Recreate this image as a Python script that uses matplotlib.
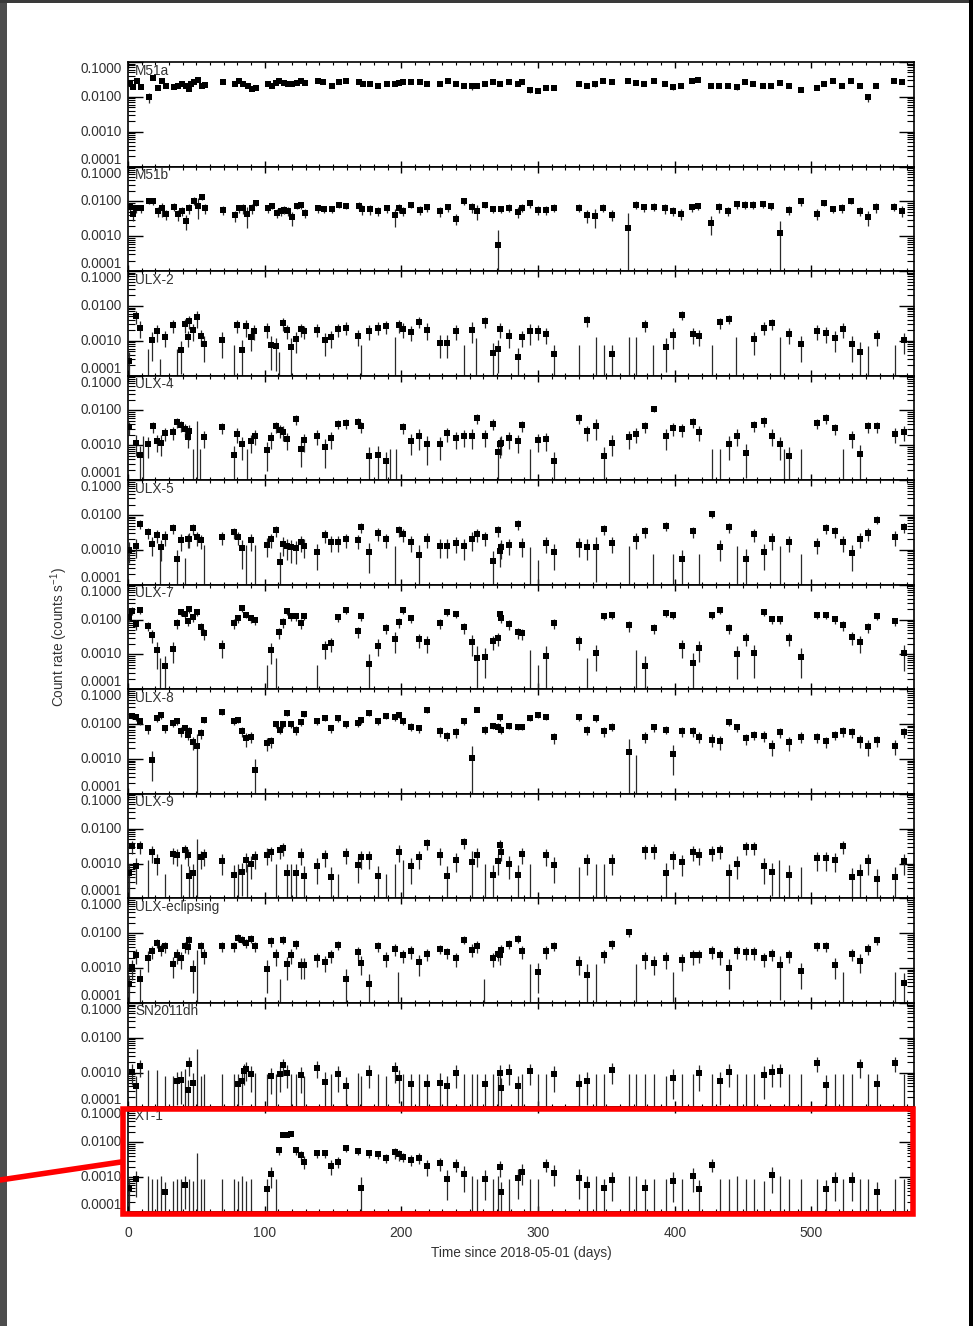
"""Swift/XRT light curves of the M51 X-ray sources, eleven stacked panels.

Squares are detections with 1-sigma bars, bare vertical lines are upper
limits drawn up from the bottom of each panel. Saves ``out.png``.
"""

import matplotlib.pyplot as plt
from matplotlib.lines import Line2D
from matplotlib.patches import Rectangle
from matplotlib.ticker import LogLocator, MultipleLocator, NullFormatter

# (day, rate, fractional error) for detections, (day, limit) for upper limits
M51A_DET = [
    (1.5, 0.025, 0.12), (3.9, 0.019, 0.12), (6.3, 0.029, 0.1), (9.5, 0.019, 0.12),
    (15.4, 0.0097, 0.3), (18.3, 0.035, 0.1), (22, 0.018, 0.12), (24.9, 0.029, 0.1),
    (27.6, 0.020, 0.1), (33.4, 0.019, 0.1), (36.3, 0.021, 0.1), (39.5, 0.024, 0.1),
    (42.2, 0.021, 0.1), (44.7, 0.017, 0.12), (45.9, 0.024, 0.1), (48.5, 0.027, 0.1),
    (51.5, 0.030, 0.1), (53.9, 0.020, 0.1), (56.4, 0.022, 0.1), (69.5, 0.027, 0.08),
    (78.1, 0.023, 0.1), (81, 0.028, 0.08), (84.4, 0.023, 0.1), (87.6, 0.021, 0.1),
    (90.8, 0.017, 0.12), (93.7, 0.018, 0.1), (102.2, 0.023, 0.1), (105.4, 0.021, 0.1),
    (108.1, 0.025, 0.1), (110.8, 0.029, 0.08), (114, 0.025, 0.1), (116.7, 0.023, 0.1),
    (120.1, 0.024, 0.1), (123.3, 0.025, 0.1), (126.6, 0.028, 0.08), (129.8, 0.025, 0.1),
    (138.8, 0.029, 0.08), (143.0, 0.026, 0.1), (149.3, 0.020, 0.1), (154.2, 0.026, 0.1),
    (159.3, 0.028, 0.08), (169.1, 0.026, 0.1), (171.8, 0.024, 0.1), (177.2, 0.023, 0.1),
    (183, 0.021, 0.1), (189.4, 0.023, 0.1), (195.2, 0.023, 0.12), (198.6, 0.025, 0.1),
    (201.5, 0.026, 0.1), (207.2, 0.027, 0.08), (213.3, 0.027, 0.08), (218.9, 0.023, 0.1),
    (228.2, 0.023, 0.1), (234.1, 0.029, 0.08), (240.1, 0.023, 0.1), (246, 0.021, 0.1),
    (251.8, 0.020, 0.2), (255.2, 0.021, 0.1), (261.1, 0.023, 0.1), (267.2, 0.026, 0.08),
    (272.5, 0.023, 0.1), (278.9, 0.027, 0.08), (285, 0.024, 0.1), (288.4, 0.026, 0.1),
    (294.3, 0.016, 0.2), (300.1, 0.015, 0.12), (306, 0.018, 0.1), (311.9, 0.018, 0.1),
    (330.2, 0.024, 0.1), (336, 0.021, 0.1), (341.9, 0.023, 0.15), (347.7, 0.028, 0.08),
    (354.3, 0.026, 0.1), (366, 0.029, 0.1), (371.9, 0.025, 0.1), (377.7, 0.024, 0.1),
    (384.6, 0.028, 0.08), (393.1, 0.024, 0.1), (398.5, 0.019, 0.15), (404.6, 0.020, 0.1),
    (412.9, 0.028, 0.08), (417.3, 0.031, 0.08), (426.5, 0.020, 0.12), (432.6, 0.021, 0.1),
    (439.2, 0.020, 0.1), (445.3, 0.019, 0.15), (451.7, 0.026, 0.1), (457.5, 0.023, 0.1),
    (464.6, 0.020, 0.1), (470.7, 0.020, 0.1), (476.8, 0.025, 0.1), (483.2, 0.020, 0.1),
    (492.2, 0.016, 0.15), (503.9, 0.018, 0.1), (509.5, 0.023, 0.1), (515.9, 0.028, 0.08),
    (522.5, 0.021, 0.1), (528.6, 0.028, 0.08), (535.2, 0.020, 0.1), (541, 0.0097, 0.25),
    (546.9, 0.021, 0.1), (560.5, 0.028, 0.08), (566.4, 0.027, 0.08),
]
M51A_UL = []

M51B_DET = [
    (1.5, 0.0068, 0.25), (3.4, 0.0043, 0.35), (5.9, 0.0063, 0.25), (9.5, 0.0063, 0.25),
    (15.4, 0.0105, 0.2), (18.5, 0.010, 0.2), (22, 0.0052, 0.3), (24.9, 0.0064, 0.45),
    (27.6, 0.0043, 0.3), (33.4, 0.0071, 0.25), (36.3, 0.0043, 0.35), (39.5, 0.0054, 0.3),
    (42.2, 0.0028, 0.45), (44.9, 0.0063, 0.3), (48.3, 0.0105, 0.25), (51, 0.0076, 0.6),
    (53.9, 0.0138, 0.2), (56.4, 0.0064, 0.3), (69.3, 0.0058, 0.3), (78.3, 0.0040, 0.35),
    (81, 0.0064, 0.25), (84.4, 0.0064, 0.3), (87.1, 0.0043, 0.6), (90.8, 0.0063, 0.3),
    (93.7, 0.0091, 0.2), (102.2, 0.0063, 0.25), (105.4, 0.0075, 0.2), (109.3, 0.0048, 0.3),
    (112, 0.0054, 0.3), (114.4, 0.0058, 0.25), (117.3, 0.0054, 0.3), (120.1, 0.0035, 0.45),
    (123.5, 0.0075, 0.2), (126.6, 0.0078, 0.2), (129.8, 0.0048, 0.3), (138.8, 0.0063, 0.25),
    (143.5, 0.0060, 0.25), (149.3, 0.0060, 0.25), (154.2, 0.0079, 0.2), (159.3, 0.0076, 0.2),
    (169.1, 0.0076, 0.25), (171.5, 0.0060, 0.3), (177.2, 0.0060, 0.3), (183, 0.0054, 0.3),
    (189.4, 0.0064, 0.25), (195.2, 0.0040, 0.55), (198.6, 0.0066, 0.3), (201.5, 0.0054, 0.3),
    (207.2, 0.0079, 0.2), (213.3, 0.0057, 0.3), (218.9, 0.0068, 0.25), (228.2, 0.0052, 0.3),
    (234.1, 0.0068, 0.25), (240.1, 0.0032, 0.35), (246, 0.0100, 0.2), (251.8, 0.0068, 0.3),
    (255.2, 0.0053, 0.45), (261.1, 0.0080, 0.2), (267.2, 0.0060, 0.25), (270.9, 0.00055, 1.7),
    (273.1, 0.0060, 0.25), (278.9, 0.0066, 0.25), (285.2, 0.0050, 0.35), (288.4, 0.0066, 0.25),
    (294.3, 0.0089, 0.25), (300.1, 0.0057, 0.3), (306, 0.0058, 0.3), (311.9, 0.0066, 0.25),
    (330.2, 0.0066, 0.25), (336, 0.0041, 0.4), (341.9, 0.0039, 0.55), (347.7, 0.0066, 0.25),
    (354.3, 0.0041, 0.35), (366, 0.0017, 1.65), (371.9, 0.0080, 0.25), (377.7, 0.0068, 0.25),
    (384.6, 0.0071, 0.25), (393.1, 0.0064, 0.3), (398.5, 0.0054, 0.3), (404.6, 0.0044, 0.35),
    (412.9, 0.0068, 0.25), (417.3, 0.0074, 0.25), (426.5, 0.0024, 0.55), (432.6, 0.0068, 0.3),
    (439.2, 0.0054, 0.3), (445.3, 0.0083, 0.25), (451.7, 0.0080, 0.25), (457.5, 0.0080, 0.25),
    (464.6, 0.0083, 0.2), (470.7, 0.0074, 0.25), (476.8, 0.0012, 1.25), (483.2, 0.0058, 0.3),
    (492.2, 0.0100, 0.25), (503.9, 0.0044, 0.35), (509.5, 0.0090, 0.2), (515.9, 0.0060, 0.25),
    (522.5, 0.0065, 0.3), (528.6, 0.0105, 0.2), (535.2, 0.0054, 0.3), (541, 0.0036, 0.45),
    (546.9, 0.0068, 0.3), (560.5, 0.0071, 0.25), (566.4, 0.0054, 0.35),
]
M51B_UL = []

ULX2_DET = [
    (0.7, 0.00027, 0.8), (5.6, 0.0050, 0.4), (8.6, 0.0024, 0.5), (17.2, 0.00103, 0.75),
    (21, 0.0019, 0.5), (27, 0.0013, 0.5), (33, 0.0028, 0.4), (38.6, 0.00056, 0.8),
    (41.6, 0.0030, 0.45), (43.8, 0.0013, 0.5), (44.6, 0.0037, 0.4), (47.6, 0.0020, 0.5),
    (50.6, 0.0048, 0.5), (53.2, 0.0014, 0.5), (55.4, 0.00083, 0.7), (68.9, 0.00107, 0.7),
    (80.1, 0.0028, 0.4), (83.1, 0.00056, 0.85), (86.5, 0.0026, 0.5), (90.3, 0.00125, 0.6),
    (92.5, 0.0019, 0.45), (101.9, 0.0022, 0.45), (104.5, 0.00074, 0.8), (108.2, 0.00069, 0.8),
    (113.5, 0.0032, 0.4), (116.1, 0.0020, 0.45), (119.5, 0.00065, 0.85), (123.2, 0.0011, 0.6),
    (126.2, 0.0022, 0.4), (128.8, 0.0019, 0.4), (138.6, 0.0021, 0.4), (143.8, 0.00102, 0.65),
    (148.7, 0.00125, 0.5), (153.9, 0.0022, 0.4), (159.2, 0.0024, 0.4), (168.5, 0.0014, 0.5),
    (176.4, 0.0019, 0.45), (182.8, 0.0024, 0.4), (188.8, 0.0026, 0.4), (198.1, 0.0028, 0.4),
    (201.1, 0.0022, 0.45), (206.7, 0.0018, 0.45), (212.7, 0.0035, 0.35), (218.7, 0.0021, 0.5),
    (228.1, 0.00089, 0.65), (233.7, 0.00089, 0.65), (239.7, 0.0019, 0.45), (251.7, 0.0021, 0.6),
    (261, 0.0036, 0.35), (267, 0.00046, 0.85), (270.8, 0.00059, 0.8), (272.3, 0.0022, 0.45),
    (279, 0.0014, 0.55), (285.4, 0.00035, 0.8), (288.4, 0.0013, 0.5), (294.4, 0.0019, 0.6),
    (300, 0.0019, 0.45), (306, 0.0016, 0.5), (312, 0.00042, 0.85), (336, 0.0039, 0.35),
    (354.3, 0.00042, 0.85), (377.9, 0.0029, 0.4), (393.3, 0.00065, 0.8), (398.5, 0.0015, 0.6),
    (405.2, 0.0056, 0.3), (413.1, 0.0016, 0.5), (417.6, 0.0014, 0.5), (433.3, 0.0034, 0.35),
    (439.7, 0.0043, 0.3), (458, 0.0011, 0.65), (465.2, 0.0024, 0.4), (471.2, 0.0032, 0.35),
    (483.5, 0.0016, 0.5), (492.5, 0.00083, 0.7), (504.1, 0.0019, 0.45), (510.5, 0.0017, 0.5),
    (516.9, 0.0012, 0.6), (523.2, 0.0022, 0.45), (529.6, 0.00083, 0.7), (535.6, 0.00049, 0.85),
    (547.6, 0.0014, 0.5), (567.8, 0.00107, 0.6),
]
ULX2_UL = [
    (14.6, 0.00059), (23.6, 0.0003), (36, 0.0006), (77.5, 0.00076), (110.5, 0.00047),
    (170.8, 0.00076), (195.1, 0.0013), (246, 0.00076), (254.7, 0.0012), (330, 0.00076),
    (342.3, 0.0013), (348.3, 0.00076), (366.3, 0.0013), (371.9, 0.0013), (384.3, 0.00076),
    (427, 0.00076), (445, 0.0013), (477.2, 0.0013), (541.6, 0.00071), (561.4, 0.00076),
]

ULX4_DET = [
    (0.7, 0.0034, 0.4), (5.6, 0.0012, 0.6), (8.6, 0.00052, 0.85), (14.6, 0.00107, 0.6),
    (18, 0.0035, 0.35), (21.3, 0.0013, 0.5), (24, 0.0012, 0.6), (27, 0.0022, 0.4),
    (33, 0.0024, 0.4), (36, 0.0046, 0.3), (38.6, 0.0038, 0.35), (41.6, 0.0029, 0.4),
    (44.6, 0.0026, 0.45), (43.8, 0.0017, 0.5), (55.4, 0.0017, 0.5), (68.5, 0.0033, 0.35),
    (77.5, 0.00052, 0.85), (80.1, 0.0021, 0.45), (83.1, 0.00107, 0.65), (90.3, 0.0013, 0.55),
    (92.9, 0.0019, 0.45), (101.5, 0.00072, 0.75), (104.5, 0.0016, 0.5), (108.6, 0.0035, 0.35),
    (110.9, 0.0027, 0.4), (113.5, 0.0024, 0.45), (116.1, 0.0015, 0.5), (123.2, 0.0056, 0.3),
    (126.2, 0.00079, 0.7), (128.8, 0.0014, 0.55), (138.6, 0.0019, 0.45), (143.8, 0.00087, 0.75),
    (148.7, 0.0016, 0.5), (153.9, 0.0041, 0.3), (159.2, 0.0043, 0.3), (168.5, 0.0046, 0.3),
    (170.8, 0.0035, 0.35), (176.4, 0.00048, 0.85), (182.8, 0.00052, 0.85), (188.8, 0.00035, 0.85),
    (201.1, 0.0033, 0.35), (206.7, 0.0013, 0.6), (212.7, 0.0018, 0.6), (218.7, 0.00107, 0.75),
    (228.1, 0.00107, 0.65), (233.7, 0.0022, 0.45), (239.7, 0.0016, 0.5), (245.7, 0.0018, 0.5),
    (251.7, 0.0019, 0.6), (255.4, 0.0060, 0.3), (261, 0.0018, 0.5), (267, 0.0041, 0.35),
    (270.8, 0.00063, 1.2), (272.3, 0.0011, 0.6), (273, 0.0012, 0.55), (279, 0.0016, 0.5),
    (285.4, 0.0013, 0.55), (288.4, 0.0038, 0.35), (300, 0.0014, 0.55), (306, 0.0015, 0.55),
    (312, 0.00035, 0.85), (330, 0.0060, 0.3), (336, 0.0025, 0.45), (342.3, 0.0035, 0.6),
    (348.3, 0.00048, 0.85), (354.3, 0.0012, 0.6), (366.3, 0.0017, 0.55), (371.9, 0.0021, 0.45),
    (377.9, 0.0035, 0.35), (384.6, 0.011, 0.2), (393.3, 0.0018, 0.6), (398.5, 0.0031, 0.4),
    (405.2, 0.0029, 0.4), (413.1, 0.0046, 0.3), (417.6, 0.0024, 0.45), (439.7, 0.0011, 0.65),
    (445.3, 0.0019, 0.5), (452, 0.00059, 0.8), (458, 0.0038, 0.35), (465.2, 0.0049, 0.3),
    (471.2, 0.0019, 0.5), (477.2, 0.00107, 0.65), (483.5, 0.00048, 0.85), (504.1, 0.0043, 0.3),
    (510.5, 0.0060, 0.3), (516.9, 0.0031, 0.35), (529.6, 0.0017, 0.5), (535.6, 0.00055, 0.85),
    (541.6, 0.0035, 0.35), (547.6, 0.0035, 0.35), (561.4, 0.0021, 0.45), (567.8, 0.0024, 0.45),
]
ULX4_UL = [
    (11.2, 0.0019), (47.9, 0.0008), (50.6, 0.0049), (52.4, 0.0008), (86.9, 0.0008),
    (191.8, 0.0008), (196.3, 0.0008), (294, 0.0008), (427, 0.0008), (433, 0.0008),
    (480, 0.0008), (492.5, 0.0008), (522.8, 0.0008),
]

ULX5_DET = [
    (0.7, 0.00102, 0.6), (5.6, 0.0013, 0.55), (8.6, 0.0057, 0.3), (14.6, 0.0032, 0.35),
    (17.2, 0.0015, 0.55), (21, 0.0026, 0.4), (24, 0.0012, 0.6), (27, 0.0024, 0.45),
    (33, 0.0042, 0.3), (36, 0.00053, 0.85), (38.6, 0.0019, 0.5), (43.8, 0.0020, 0.45),
    (44.6, 0.0021, 0.45), (47.6, 0.0042, 0.35), (50.6, 0.0023, 0.45), (53.6, 0.0019, 0.45),
    (68.9, 0.0023, 0.4), (77.9, 0.0032, 0.35), (80.5, 0.0023, 0.4), (83.5, 0.0011, 0.75),
    (90.3, 0.0019, 0.5), (101.9, 0.0014, 0.55), (104.5, 0.0020, 0.45), (108.6, 0.0036, 0.35),
    (110.9, 0.00046, 0.9), (113.5, 0.0015, 0.55), (116.1, 0.0013, 0.6), (119.5, 0.0012, 0.65),
    (122.8, 0.0011, 0.65), (126.2, 0.0017, 0.5), (128.8, 0.0013, 0.55), (138.6, 0.00089, 0.7),
    (143.8, 0.0026, 0.4), (148.7, 0.0017, 0.5), (153.9, 0.0017, 0.5), (159.2, 0.0020, 0.45),
    (168.5, 0.0019, 0.45), (170.8, 0.0044, 0.3), (176.4, 0.00089, 0.75), (182.8, 0.0030, 0.4),
    (188.8, 0.0020, 0.45), (198.1, 0.0036, 0.35), (201.1, 0.0028, 0.4), (206.7, 0.0017, 0.5),
    (212.7, 0.00069, 1.0), (218.7, 0.0021, 0.45), (228.1, 0.0013, 0.55), (233.7, 0.0013, 0.55),
    (239.7, 0.0016, 0.5), (245.7, 0.0013, 0.6), (251.7, 0.0021, 0.55), (255.4, 0.0028, 0.4),
    (261, 0.0023, 0.45), (267, 0.00049, 0.9), (270.8, 0.0036, 0.35), (271.9, 0.00095, 0.65),
    (273, 0.0012, 0.55), (279, 0.0014, 0.5), (285.4, 0.0054, 0.3), (288.4, 0.0014, 0.55),
    (306, 0.0016, 0.5), (312, 0.00089, 0.7), (330, 0.0014, 0.55), (336, 0.00125, 0.6),
    (342.3, 0.0012, 0.9), (348.3, 0.0039, 0.3), (354.3, 0.0016, 0.5), (371.9, 0.0021, 0.5),
    (377.9, 0.0034, 0.35), (393.3, 0.0050, 0.3), (405.2, 0.00053, 0.85), (413.1, 0.0034, 0.35),
    (427, 0.0105, 0.2), (433.3, 0.0012, 0.6), (439.7, 0.0044, 0.3), (452, 0.00056, 0.85),
    (458, 0.0028, 0.4), (465.2, 0.00089, 0.7), (471.2, 0.0020, 0.5), (483.5, 0.0017, 0.5),
    (504.1, 0.0015, 0.5), (510.5, 0.0042, 0.3), (516.9, 0.0034, 0.35), (523.2, 0.0017, 0.5),
    (529.6, 0.00083, 0.7), (535.6, 0.0021, 0.45), (541.6, 0.0030, 0.4), (547.6, 0.0074, 0.25),
    (561.4, 0.0024, 0.45), (567.8, 0.0044, 0.3),
]
ULX5_UL = [
    (23.6, 0.0014), (41.6, 0.0006), (55.8, 0.0014), (86.5, 0.0014), (92.9, 0.0014),
    (195.1, 0.0013), (294.4, 0.0012), (300, 0.0005), (366.3, 0.0013), (384.3, 0.00076),
    (398.5, 0.00076), (417.6, 0.00076), (445.3, 0.0013), (477.2, 0.0013), (492.5, 0.00076),
]

ULX7_DET = [
    (0.7, 0.012, 0.3), (3, 0.0178, 0.25), (5.6, 0.0074, 0.3), (8.6, 0.0186, 0.2),
    (14.6, 0.0065, 0.3), (17.6, 0.0035, 0.4), (21.3, 0.0013, 0.7), (27, 0.00048, 0.9),
    (33, 0.0014, 0.6), (36, 0.0078, 0.3), (38.6, 0.0162, 0.2), (41.6, 0.0142, 0.2),
    (44.6, 0.0198, 0.2), (43.8, 0.0089, 0.25), (47.6, 0.0117, 0.25), (50.6, 0.0162, 0.2),
    (53.2, 0.0060, 0.3), (55.4, 0.0041, 0.35), (68.9, 0.0017, 0.55), (77.5, 0.0078, 0.3),
    (80.5, 0.0109, 0.25), (83.5, 0.0213, 0.2), (86.5, 0.0139, 0.2), (90.3, 0.0109, 0.25),
    (92.9, 0.0095, 0.25), (104.9, 0.0013, 0.6), (110.5, 0.0043, 0.35), (113.5, 0.0083, 0.3),
    (116.1, 0.0174, 0.2), (119.5, 0.0125, 0.25), (122.8, 0.0125, 0.25), (126.2, 0.0078, 0.3),
    (128.8, 0.0125, 0.2), (143.8, 0.0016, 0.55), (148.7, 0.0021, 0.45), (153.9, 0.0117, 0.25),
    (159.2, 0.0186, 0.2), (168.5, 0.0046, 0.35), (170.8, 0.0125, 0.25), (176.4, 0.00052, 0.95),
    (182.8, 0.0018, 0.5), (188.8, 0.0056, 0.3), (195.1, 0.0027, 0.6), (198.1, 0.0083, 0.3),
    (201.1, 0.0186, 0.2), (206.7, 0.0109, 0.25), (212.7, 0.0027, 0.45), (218.7, 0.0022, 0.5),
    (228.1, 0.0078, 0.3), (233.7, 0.0162, 0.2), (239.7, 0.0142, 0.2), (245.7, 0.0060, 0.35),
    (251.7, 0.0022, 0.6), (255.4, 0.00081, 1.2), (261, 0.00087, 0.75), (267, 0.0024, 0.45),
    (270.8, 0.0029, 0.4), (271.9, 0.0142, 0.2), (273, 0.0109, 0.25), (279, 0.0074, 0.3),
    (285.4, 0.0043, 0.35), (288.4, 0.0041, 0.35), (306, 0.00093, 0.9), (312, 0.0078, 0.3),
    (330, 0.0024, 0.45), (342.3, 0.0011, 0.7), (348.3, 0.0125, 0.2), (354.3, 0.0133, 0.2),
    (366.3, 0.0069, 0.35), (377.9, 0.00048, 0.85), (384.6, 0.0056, 0.3), (393.3, 0.0151, 0.2),
    (398.5, 0.0133, 0.2), (405.2, 0.0017, 0.55), (413.1, 0.00055, 1.0), (417.6, 0.0015, 0.6),
    (427, 0.0133, 0.2), (433.3, 0.0186, 0.2), (439.7, 0.0056, 0.3), (445.3, 0.0010, 0.8),
    (452, 0.0029, 0.4), (458, 0.00107, 0.8), (465.2, 0.0162, 0.2), (471.2, 0.0102, 0.25),
    (477.2, 0.0102, 0.25), (483.5, 0.0029, 0.4), (492.5, 0.00087, 0.75), (504.1, 0.0133, 0.2),
    (510.5, 0.0133, 0.2), (516.9, 0.0102, 0.25), (523.2, 0.0069, 0.3), (529.6, 0.0031, 0.4),
    (535.6, 0.0022, 0.5), (541.6, 0.0060, 0.3), (547.6, 0.0125, 0.2), (561.4, 0.0089, 0.25),
    (567.8, 0.0011, 0.7),
]
ULX7_UL = [
    (23.6, 0.0008), (101.9, 0.0005), (108.6, 0.0008), (138.6, 0.0005),
    (294, 0.0013), (300, 0.0005), (336, 0.0008), (371.9, 0.0013),
]

ULX8_DET = [
    (2.6, 0.017, 0.2), (5.6, 0.0155, 0.2), (8.6, 0.012, 0.2), (14.6, 0.0075, 0.3),
    (17.6, 0.00095, 0.75), (21.3, 0.0145, 0.2), (24, 0.0178, 0.2), (27, 0.0075, 0.25),
    (33, 0.0105, 0.2), (36, 0.012, 0.2), (38.6, 0.0062, 0.3), (41.6, 0.0075, 0.25),
    (43.8, 0.0050, 0.3), (44.6, 0.0062, 0.3), (47.6, 0.0030, 0.4), (50.6, 0.0023, 1.2),
    (53.2, 0.0054, 0.3), (55.4, 0.0135, 0.2), (68.9, 0.0218, 0.15), (77.9, 0.012, 0.2),
    (80.5, 0.0135, 0.2), (83.5, 0.0062, 0.3), (86.5, 0.0039, 0.45), (90.3, 0.0044, 0.35),
    (92.9, 0.00049, 1.1), (101.9, 0.0028, 0.4), (104.5, 0.0032, 0.35), (108.6, 0.0098, 0.2),
    (110.9, 0.0070, 0.25), (113.5, 0.0098, 0.2), (116.1, 0.0203, 0.15), (119.5, 0.0098, 0.2),
    (122.8, 0.0070, 0.3), (126.2, 0.0112, 0.2), (128.8, 0.019, 0.15), (138.6, 0.012, 0.2),
    (143.8, 0.0145, 0.15), (148.7, 0.0075, 0.25), (153.9, 0.0145, 0.2), (159.2, 0.0098, 0.2),
    (168.5, 0.0105, 0.2), (170.8, 0.0128, 0.2), (176.4, 0.0203, 0.15), (182.8, 0.012, 0.2),
    (188.8, 0.0166, 0.15), (195.1, 0.0155, 0.2), (198.1, 0.0178, 0.15), (201.1, 0.012, 0.2),
    (206.7, 0.0085, 0.25), (212.7, 0.0075, 0.25), (218.7, 0.0246, 0.15), (228.1, 0.0062, 0.3),
    (233.7, 0.0047, 0.3), (239.7, 0.0058, 0.3), (245.7, 0.012, 0.2), (251.7, 0.0011, 1.2),
    (255.4, 0.026, 0.15), (261, 0.0070, 0.25), (267, 0.0091, 0.2), (270.8, 0.0085, 0.25),
    (272.3, 0.0155, 0.2), (273, 0.0070, 0.25), (279, 0.0091, 0.2), (285.4, 0.0085, 0.2),
    (288.4, 0.0085, 0.2), (294.4, 0.0145, 0.15), (300, 0.0178, 0.15), (306, 0.0155, 0.15),
    (312, 0.0042, 0.35), (330, 0.0155, 0.2), (336, 0.0070, 0.3), (342.3, 0.0145, 0.2),
    (348.3, 0.0062, 0.3), (354.3, 0.0085, 0.25), (366.3, 0.0016, 1.3), (377.9, 0.0044, 0.35),
    (384.6, 0.0080, 0.25), (393.3, 0.0070, 0.25), (398.5, 0.0014, 0.75), (405.2, 0.0062, 0.3),
    (413.1, 0.0062, 0.3), (417.6, 0.0044, 0.35), (427, 0.0036, 0.4), (433.3, 0.0032, 0.45),
    (439.7, 0.0112, 0.2), (445.3, 0.0080, 0.25), (452, 0.0039, 0.35), (458, 0.0050, 0.3),
    (465.2, 0.0047, 0.35), (471.2, 0.0024, 0.5), (477.2, 0.0058, 0.3), (483.5, 0.0030, 0.45),
    (492.5, 0.0044, 0.35), (504.1, 0.0042, 0.3), (510.5, 0.0032, 0.35), (516.9, 0.0050, 0.3),
    (523.2, 0.0062, 0.3), (529.6, 0.0058, 0.3), (535.6, 0.0034, 0.4), (541.6, 0.0024, 0.5),
    (547.6, 0.0034, 0.35), (561.4, 0.0024, 0.45), (567.8, 0.0058, 0.3),
]
ULX8_UL = [(371.9, 0.0013)]

ULX9_DET = [
    (0.7, 0.00052, 0.85), (3, 0.0032, 0.4), (5.6, 0.00087, 0.7), (8.6, 0.0031, 0.4),
    (17.6, 0.0021, 0.5), (21.3, 0.0012, 0.6), (33, 0.0019, 0.5), (36, 0.0017, 0.5),
    (41.6, 0.0024, 0.45), (43.8, 0.0017, 0.5), (44.6, 0.00045, 0.9), (47.6, 0.00052, 0.85),
    (53.2, 0.0015, 0.55), (55.4, 0.0017, 0.5), (68.9, 0.0012, 0.6), (77.9, 0.00048, 0.85),
    (83.5, 0.00059, 0.8), (86.5, 0.0013, 0.55), (90.3, 0.0010, 0.65), (92.9, 0.0015, 0.55),
    (101.9, 0.0018, 0.5), (104.5, 0.0021, 0.45), (110.9, 0.0024, 0.45), (113.5, 0.0027, 0.4),
    (116.1, 0.00052, 0.85), (122.8, 0.00052, 0.85), (126.2, 0.0018, 0.5), (128.8, 0.00045, 0.9),
    (138.6, 0.00087, 0.7), (143.8, 0.0016, 0.5), (148.7, 0.00042, 0.9), (159.2, 0.0019, 0.5),
    (168.5, 0.00093, 0.7), (170.8, 0.0015, 0.55), (176.4, 0.0015, 0.55), (182.8, 0.00045, 0.9),
    (198.1, 0.0022, 0.5), (206.7, 0.00087, 0.7), (212.7, 0.0015, 0.55), (218.7, 0.0038, 0.35),
    (228.1, 0.0018, 0.5), (233.7, 0.00045, 0.9), (239.7, 0.0013, 0.55), (245.7, 0.0041, 0.35),
    (251.7, 0.00107, 1.1), (255.4, 0.0018, 0.55), (267, 0.00048, 0.85), (270.8, 0.0012, 0.6),
    (271.9, 0.0035, 0.35), (273, 0.0021, 0.45), (279, 0.0010, 0.65), (285.4, 0.00048, 0.85),
    (288.4, 0.0019, 0.5), (306, 0.0017, 0.5), (312, 0.00093, 0.7), (336, 0.0012, 0.6),
    (354.3, 0.0012, 0.6), (377.9, 0.0024, 0.45), (384.6, 0.0025, 0.45), (393.3, 0.00055, 0.85),
    (398.5, 0.0015, 0.55), (405.2, 0.0011, 0.6), (413.1, 0.0022, 0.45), (417.6, 0.0018, 0.5),
    (427, 0.0022, 0.45), (433.3, 0.0024, 0.45), (439.7, 0.00052, 0.85), (445.3, 0.0010, 0.65),
    (452, 0.0029, 0.4), (458, 0.0029, 0.4), (465.2, 0.00087, 0.7), (471.2, 0.00059, 0.8),
    (483.5, 0.00048, 0.85), (504.1, 0.0014, 0.55), (510.5, 0.0014, 0.55), (516.9, 0.0013, 0.55),
    (523.2, 0.0032, 0.4), (529.6, 0.0004, 0.9), (535.6, 0.00052, 0.85), (541.6, 0.0012, 0.6),
    (547.6, 0.00037, 0.9), (561.4, 0.00042, 0.9), (567.8, 0.0012, 0.6),
]
ULX9_UL = [
    (14.6, 0.0013), (27, 0.0005), (38.6, 0.0010), (50.6, 0.0049), (80.5, 0.0010),
    (87, 0.0010), (108.3, 0.0010), (119.5, 0.0010), (153.9, 0.0005), (188.8, 0.0005),
    (195.1, 0.0010), (201.1, 0.0013), (261, 0.0010), (294.4, 0.0010), (330, 0.0008),
    (342.3, 0.0010), (348.3, 0.0010), (476.4, 0.0013), (492.5, 0.0008),
]

ECL_DET = [
    (0.7, 0.00034, 0.85), (3, 0.0011, 0.6), (5.6, 0.0024, 0.45), (8.6, 0.00049, 0.9),
    (14.6, 0.0019, 0.6), (17.6, 0.0030, 0.4), (21.3, 0.0054, 0.3), (24, 0.0036, 0.4),
    (27, 0.0042, 0.35), (33, 0.0013, 0.6), (36, 0.0024, 0.45), (38.6, 0.0019, 0.5),
    (41.6, 0.0042, 0.35), (43.8, 0.0039, 0.35), (44.6, 0.0062, 0.3), (47.6, 0.00095, 0.8),
    (53.2, 0.0042, 0.35), (55.4, 0.0024, 0.45), (68.9, 0.0042, 0.3), (77.9, 0.0042, 0.3),
    (80.5, 0.0075, 0.25), (83.5, 0.0066, 0.25), (86.5, 0.0054, 0.3), (90.3, 0.0070, 0.25),
    (92.9, 0.0042, 0.3), (101.9, 0.00095, 0.8), (104.5, 0.0058, 0.3), (108.6, 0.0023, 0.5),
    (113.5, 0.0066, 0.25), (116.1, 0.0013, 0.65), (119.5, 0.0024, 0.45), (122.8, 0.0050, 0.3),
    (126.2, 0.00125, 0.6), (128.8, 0.00125, 0.6), (138.6, 0.0019, 0.45), (143.8, 0.0015, 0.5),
    (148.7, 0.0024, 0.4), (153.9, 0.0047, 0.3), (159.2, 0.00049, 0.95), (168.5, 0.0028, 0.4),
    (170.8, 0.0014, 0.55), (176.4, 0.00035, 0.9), (182.8, 0.0042, 0.3), (188.8, 0.0020, 0.45),
    (195.1, 0.0036, 0.4), (201.1, 0.0024, 0.4), (206.7, 0.0030, 0.4), (212.7, 0.0015, 0.6),
    (218.7, 0.0026, 0.4), (228.1, 0.0036, 0.3), (233.7, 0.0028, 0.35), (239.7, 0.0019, 0.45),
    (245.7, 0.0066, 0.25), (251.7, 0.0034, 0.4), (255.4, 0.0044, 0.4), (267, 0.0019, 0.45),
    (270.8, 0.0026, 0.4), (271.9, 0.0023, 0.45), (273, 0.0034, 0.35), (279, 0.0050, 0.3),
    (285.4, 0.0070, 0.25), (288.4, 0.0030, 0.4), (300, 0.00078, 0.75), (306, 0.0030, 0.4),
    (312, 0.0044, 0.3), (330, 0.0014, 0.55), (336, 0.00065, 1.0), (348.3, 0.0024, 0.4),
    (354.3, 0.0050, 0.3), (366.3, 0.0105, 0.25), (377.9, 0.0019, 0.5), (384.6, 0.0014, 0.55),
    (393.3, 0.0019, 0.5), (405.2, 0.0017, 0.5), (413.1, 0.0023, 0.45), (417.6, 0.0024, 0.4),
    (427, 0.0030, 0.4), (433.3, 0.0023, 0.45), (439.7, 0.00102, 0.75), (445.3, 0.0030, 0.4),
    (452, 0.0028, 0.4), (458, 0.0028, 0.4), (465.2, 0.0019, 0.45), (471.2, 0.0026, 0.4),
    (477.2, 0.0012, 0.9), (483.5, 0.0024, 0.4), (492.5, 0.00083, 0.7), (504.1, 0.0044, 0.3),
    (510.5, 0.0042, 0.3), (516.9, 0.00125, 0.6), (529.6, 0.0026, 0.4), (535.6, 0.0016, 0.55),
    (541.6, 0.0036, 0.35), (547.6, 0.0062, 0.25), (567.8, 0.00038, 0.9),
]
ECL_UL = [
    (50.6, 0.0032), (111.2, 0.0005), (197.8, 0.00076), (260.7, 0.0005), (294.4, 0.0013),
    (342.3, 0.0013), (371.9, 0.0013), (398.5, 0.00076), (523.2, 0.00076), (561.4, 0.00076),
]

SN_DET = [
    (3, 0.00107, 0.6), (5.6, 0.00042, 0.85), (8.6, 0.0015, 0.5), (36, 0.00059, 0.8),
    (38.6, 0.00063, 0.8), (43.8, 0.00032, 0.9), (44.6, 0.0018, 0.55), (47.6, 0.00052, 0.85),
    (80.5, 0.00048, 0.85), (83.5, 0.00059, 0.8), (84.5, 0.0011, 0.6), (86.5, 0.0013, 0.55),
    (90.3, 0.00093, 0.7), (104.5, 0.00081, 0.7), (110.9, 0.00093, 0.7), (113.5, 0.0016, 0.5),
    (116.1, 0.0010, 0.65), (126.2, 0.00087, 0.7), (138.6, 0.0014, 0.5), (143.8, 0.00055, 0.85),
    (153.9, 0.00093, 0.7), (159.2, 0.0004, 0.9), (176.4, 0.0010, 0.65), (195.1, 0.0013, 0.6),
    (198.1, 0.00068, 0.8), (206.7, 0.00048, 0.85), (218.7, 0.00048, 0.85), (228.1, 0.00052, 0.85),
    (233.7, 0.00042, 0.9), (239.7, 0.0010, 0.65), (261, 0.00048, 0.85), (272.3, 0.0010, 0.65),
    (273, 0.00037, 0.9), (279, 0.00107, 0.6), (285.4, 0.00042, 0.9), (294.4, 0.0011, 0.6),
    (312, 0.00093, 0.7), (330, 0.00048, 0.85), (336, 0.00059, 0.8), (354.3, 0.0012, 0.6),
    (398.5, 0.00072, 0.75), (417.6, 0.0010, 0.7), (433.3, 0.00059, 0.8), (439.7, 0.00107, 0.65),
    (465.2, 0.00087, 0.8), (471.2, 0.00107, 0.65), (477.2, 0.0011, 0.65), (504.1, 0.0019, 0.45),
    (510.5, 0.00045, 0.9), (535.6, 0.0016, 0.55), (547.6, 0.00048, 0.85), (561.4, 0.0019, 0.45),
]
SN_UL = [
    (14.6, 0.0012), (21, 0.0012), (27, 0.0008), (33, 0.0008), (41.6, 0.0013),
    (50.6, 0.0049), (53.2, 0.0008), (55.4, 0.0009), (68.9, 0.0009), (77.9, 0.0009),
    (92.9, 0.0010), (101.9, 0.0009), (108.6, 0.0009), (119.5, 0.0009), (122.8, 0.0009),
    (128.8, 0.0008), (148.7, 0.0009), (168.5, 0.0010), (170.8, 0.0008), (182.8, 0.0009),
    (188.8, 0.0008), (201.1, 0.0009), (212.7, 0.0009), (245.7, 0.0009), (251.7, 0.0009),
    (255.4, 0.0009), (267, 0.0009), (270.8, 0.0008), (288.4, 0.0009), (300, 0.0009),
    (306, 0.0009), (342.3, 0.0009), (348.3, 0.0009), (366.3, 0.0009), (371.9, 0.0009),
    (377.9, 0.0009), (384.6, 0.0009), (393.3, 0.0008), (405.2, 0.0009), (413.1, 0.0009),
    (427, 0.0009), (445.3, 0.0009), (452, 0.0009), (458, 0.0009), (483.5, 0.0009),
    (492.5, 0.0009), (516.9, 0.0009), (523.2, 0.0009), (529.6, 0.0009), (541.6, 0.0009),
    (567.8, 0.0009),
]

XT1_DET = [
    (0.7, 0.00049, 0.85), (5.6, 0.00089, 0.7), (27, 0.00037, 0.9), (41.6, 0.0006, 0.8),
    (101.9, 0.00046, 0.9), (104.5, 0.00126, 0.6), (110.5, 0.0059, 0.25), (113.5, 0.0159, 0.1),
    (116.1, 0.0159, 0.1), (119.5, 0.017, 0.1), (122.8, 0.0059, 0.25), (126.2, 0.0042, 0.3),
    (128.8, 0.0028, 0.4), (138.6, 0.0048, 0.25), (143.8, 0.0048, 0.25), (148.7, 0.0021, 0.45),
    (153.9, 0.0028, 0.35), (159.2, 0.0067, 0.2), (168.5, 0.0055, 0.2), (170.8, 0.00049, 1.0),
    (176.4, 0.0048, 0.25), (182.8, 0.0045, 0.25), (188.8, 0.0036, 0.3), (195.1, 0.0051, 0.35),
    (198.1, 0.0045, 0.35), (201.1, 0.0039, 0.3), (206.7, 0.0032, 0.35), (212.7, 0.0036, 0.35),
    (218.7, 0.0021, 0.5), (228.1, 0.0025, 0.4), (233.7, 0.00089, 0.75), (239.7, 0.0023, 0.4),
    (245.7, 0.00126, 0.7), (261, 0.00089, 0.75), (272.3, 0.0020, 0.5), (273, 0.00037, 0.9),
    (285.4, 0.00095, 0.75), (288.4, 0.00145, 0.6), (306, 0.0023, 0.4), (312, 0.00135, 0.6),
    (330, 0.00095, 0.75), (336, 0.0006, 0.85), (348.3, 0.00049, 0.85), (354.3, 0.00083, 0.75),
    (377.9, 0.00049, 0.85), (398.5, 0.00078, 0.75), (413.1, 0.0011, 0.65), (417.6, 0.00046, 0.85),
    (427, 0.0023, 0.4), (471.2, 0.00117, 0.7), (510.5, 0.00046, 0.85), (516.9, 0.00083, 0.75),
    (529.6, 0.00083, 0.75), (547.6, 0.00037, 0.9),
]
XT1_UL = [
    (14.6, 0.0011), (17.6, 0.0009), (21, 0.0009), (24, 0.0011), (33, 0.0008),
    (36, 0.0009), (38.6, 0.0009), (44.6, 0.0009), (47.6, 0.0008), (50.6, 0.0049),
    (53.2, 0.0009), (55.4, 0.0009), (68.9, 0.0009), (77.9, 0.0009), (80.5, 0.0008),
    (83.5, 0.0011), (86.5, 0.0008), (90.3, 0.0009), (108.6, 0.0009), (251.7, 0.0011),
    (255.4, 0.0009), (267, 0.0009), (270.8, 0.0011), (279, 0.0009), (294.4, 0.0009),
    (300, 0.0009), (342.3, 0.0011), (366.3, 0.0011), (371.9, 0.0011), (384.6, 0.0009),
    (393.3, 0.0009), (405.2, 0.0009), (433.3, 0.0009), (439.7, 0.0009), (445.3, 0.0011),
    (452, 0.0009), (458, 0.0009), (465.2, 0.0008), (477.2, 0.0011), (483.5, 0.0009),
    (492.5, 0.0009), (504.1, 0.0009), (523.2, 0.0009), (535.6, 0.0009), (541.6, 0.0009),
    (561.4, 0.0009), (567.8, 0.0009),
]

PANELS = [
    ("M51a", M51A_DET, M51A_UL),
    ("M51b", M51B_DET, M51B_UL),
    ("ULX-2", ULX2_DET, ULX2_UL),
    ("ULX-4", ULX4_DET, ULX4_UL),
    ("ULX-5", ULX5_DET, ULX5_UL),
    ("ULX-7", ULX7_DET, ULX7_UL),
    ("ULX-8", ULX8_DET, ULX8_UL),
    ("ULX-9", ULX9_DET, ULX9_UL),
    ("ULX-eclipsing", ECL_DET, ECL_UL),
    ("SN2011dh", SN_DET, SN_UL),
    ("XT-1", XT1_DET, XT1_UL),
]

YTICKS = [1e-4, 1e-3, 1e-2, 1e-1]
YTICK_LABELS = ["0.0001", "0.0010", "0.0100", "0.1000"]
YMIN, YMAX = 1e-4, 0.1
XMAX = 575

W, H = 973, 1326
TEXT = "#333333"
BAR = "#2a2a2a"


def fx(px):
    return px / W


def fy(py):
    return 1 - py / H


def main():
    plt.rcParams["font.family"] = ["Liberation Sans", "DejaVu Sans"]
    plt.rcParams["mathtext.default"] = "regular"

    fig = plt.figure(figsize=(W / 100, H / 100), dpi=100)
    left, right, top, bottom = 128, 914, 62, 1212
    ph = (bottom - top) / len(PANELS)

    for i, (name, det, ul) in enumerate(PANELS):
        y0 = top + i * ph
        ax = fig.add_axes([fx(left), fy(y0 + ph), (right - left) / W, ph / H])
        ax.set_yscale("log")

        t = [d[0] for d in det]
        r = [d[1] for d in det]
        lo = [max(d[1] * (1 - d[2]), YMIN) for d in det]
        hi = [d[1] * (1 + d[2]) for d in det]
        ax.vlines(t, lo, hi, color=BAR, lw=0.9)
        if ul:
            ax.vlines([u[0] for u in ul], YMIN, [u[1] for u in ul], color=BAR, lw=0.9)
        ax.plot(t, r, "s", color="black", ms=4.8, mew=0)

        ax.set_xlim(0, XMAX)
        ax.set_ylim(YMIN, YMAX)
        ax.set_yticks(YTICKS)
        ax.yaxis.set_minor_locator(LogLocator(base=10, subs=range(2, 10)))
        ax.yaxis.set_minor_formatter(NullFormatter())
        ax.xaxis.set_major_locator(MultipleLocator(100))
        ax.xaxis.set_minor_locator(MultipleLocator(10))

        ax.tick_params(axis="y", which="major", direction="in", length=11, width=1,
                       left=True, right=True, labelleft=False)
        ax.tick_params(axis="y", which="minor", direction="in", length=5, width=0.8,
                       left=True, right=True)
        ax.tick_params(axis="x", which="major", direction="in", length=4, width=1,
                       top=True, bottom=True, labelbottom=(i == len(PANELS) - 1),
                       labelsize=10, labelcolor=TEXT, pad=10)
        ax.tick_params(axis="x", which="minor", direction="in", length=2, width=0.8,
                       top=True, bottom=True)
        for sp in ax.spines.values():
            sp.set_linewidth(1.2)

        # IDL-style labels: end labels tucked inside the panel
        for val, lab in zip(YTICKS, YTICK_LABELS):
            va = "center"
            if val == YMIN:
                va = "bottom"
            elif val == YMAX:
                va = "top"
            ax.text(-0.008, val, lab, transform=ax.get_yaxis_transform(),
                    ha="right", va=va, fontsize=9.8, color=TEXT)

        ax.text(0.009, 0.985, name, transform=ax.transAxes, ha="left", va="top",
                fontsize=9.8, color=TEXT)

    fig.text(fx(59), fy(637), "Count rate (counts s$^{-1}$)", rotation=90,
             ha="center", va="center", fontsize=9.8, color=TEXT)
    fig.text(fx(521), fy(1253), "Time since 2018-05-01 (days)",
             ha="center", va="center", fontsize=9.8, color=TEXT)

    # page edges from the screenshot
    fig.add_artist(Rectangle((0, 0), fx(7), 1, transform=fig.transFigure,
                             color="#4d4d4d", lw=0, zorder=20))
    fig.add_artist(Rectangle((0, fy(3)), 1, 3 / H, transform=fig.transFigure,
                             color="#3a3a3a", lw=0, zorder=20))
    fig.add_artist(Rectangle((fx(969), 0), fx(4), 1, transform=fig.transFigure,
                             color="black", lw=0, zorder=20))

    # red highlight around the XT-1 panel
    fig.add_artist(Rectangle((fx(122.7), fy(1214)), (913.3 - 122.7) / W, (1214 - 1109) / H,
                             transform=fig.transFigure, fill=False, ec="#ff0000",
                             lw=4, zorder=21))
    fig.add_artist(Line2D([0, fx(121)], [fy(1180), fy(1162)], transform=fig.transFigure,
                          color="#ff0000", lw=4, zorder=21))

    fig.savefig("out.png", dpi=100)
    plt.close(fig)


if __name__ == "__main__":
    main()
